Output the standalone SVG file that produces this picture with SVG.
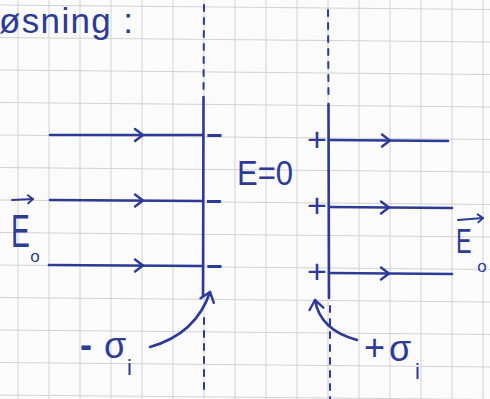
<svg xmlns="http://www.w3.org/2000/svg" width="490" height="399" viewBox="0 0 490 399">
  <style>
    .grid line { stroke: #d2d2d2; stroke-width: 1; }
    .ink { stroke: #2d3a96; fill: none; stroke-linecap: round; stroke-linejoin: round; }
    .solid { stroke-width: 2.6; }
    .dash { stroke-width: 2; stroke-dasharray: 6 7; }
    .txt { fill: #2d3a96; font-family: "Liberation Sans", "DejaVu Sans", sans-serif; }
    .sign { font-weight: bold; }
  </style>
  <defs>
    <path id="chev" d="M-8,-6 L0,0 L-8,6" fill="none" stroke="#2d3a96" stroke-width="2.4" stroke-linecap="round" stroke-linejoin="round"/>
    <marker id="head" viewBox="-12 -9 14 18" refX="0" refY="0" markerWidth="14" markerHeight="18" orient="auto" markerUnits="userSpaceOnUse">
      <path d="M-9,-7 L0,0 L-9,7" fill="none" stroke="#2d3a96" stroke-width="2.4" stroke-linecap="round" stroke-linejoin="round"/>
    </marker>
    <marker id="vhead" viewBox="-8 -6 10 12" refX="0" refY="0" markerWidth="10" markerHeight="12" orient="auto" markerUnits="userSpaceOnUse">
      <path d="M-5,-4 L0,0 L-5,4" fill="none" stroke="#2d3a96" stroke-width="2" stroke-linecap="round" stroke-linejoin="round"/>
    </marker>
  </defs>

  <rect width="490" height="399" fill="#fbfbfb"/>

  <g id="grid" class="grid">
    <line x1="18" y1="0" x2="18" y2="399"/>
    <line x1="49" y1="0" x2="49" y2="399"/>
    <line x1="80" y1="0" x2="80" y2="399"/>
    <line x1="111" y1="0" x2="111" y2="399"/>
    <line x1="142" y1="0" x2="142" y2="399"/>
    <line x1="173" y1="0" x2="173" y2="399"/>
    <line x1="204" y1="0" x2="204" y2="399"/>
    <line x1="235" y1="0" x2="235" y2="399"/>
    <line x1="266" y1="0" x2="266" y2="399"/>
    <line x1="297" y1="0" x2="297" y2="399"/>
    <line x1="328" y1="0" x2="328" y2="399"/>
    <line x1="359" y1="0" x2="359" y2="399"/>
    <line x1="390" y1="0" x2="390" y2="399"/>
    <line x1="421" y1="0" x2="421" y2="399"/>
    <line x1="452" y1="0" x2="452" y2="399"/>
    <line x1="483" y1="0" x2="483" y2="399"/>
    <line x1="0" y1="5" x2="490" y2="9.5"/>
    <line x1="0" y1="37.5" x2="490" y2="42"/>
    <line x1="0" y1="70" x2="490" y2="74.5"/>
    <line x1="0" y1="102.5" x2="490" y2="107"/>
    <line x1="0" y1="135" x2="490" y2="139.5"/>
    <line x1="0" y1="167.5" x2="490" y2="172"/>
    <line x1="0" y1="200" x2="490" y2="204.5"/>
    <line x1="0" y1="232.5" x2="490" y2="237"/>
    <line x1="0" y1="265" x2="490" y2="269.5"/>
    <line x1="0" y1="297.5" x2="490" y2="302"/>
    <line x1="0" y1="330" x2="490" y2="334.5"/>
    <line x1="0" y1="362.5" x2="490" y2="367"/>
    <line x1="0" y1="395" x2="490" y2="399.5"/>
  </g>

  <g id="title">
    <text class="txt" x="-1" y="33" font-size="35" textLength="134" lengthAdjust="spacing">øsning :</text>
  </g>

  <g id="left-plate">
    <path class="ink dash" d="M204,5 L203.5,95"/>
    <path class="ink solid" d="M203.5,97 L203,296"/>
    <path class="ink dash" d="M204,318 L204,392"/>
    <text class="txt sign" x="214.5" y="145" font-size="28" text-anchor="middle">−</text>
    <text class="txt sign" x="214" y="211" font-size="28" text-anchor="middle">−</text>
    <text class="txt sign" x="214.5" y="276" font-size="28" text-anchor="middle">−</text>
  </g>

  <g id="right-plate">
    <path class="ink dash" d="M328,10 L328.5,100"/>
    <path class="ink solid" d="M328.5,104 L329,298"/>
    <path class="ink dash" d="M330,306 L330,399"/>
    <text class="txt" x="317" y="150.5" font-size="34" text-anchor="middle">+</text>
    <text class="txt" x="317" y="216.5" font-size="34" text-anchor="middle">+</text>
    <text class="txt" x="317" y="282.5" font-size="34" text-anchor="middle">+</text>
  </g>

  <g id="connectors">
    <path class="ink solid" d="M50,135 L203,135"/>
    <path class="ink solid" d="M50,200 L203,201"/>
    <path class="ink solid" d="M49,265 L203,266"/>
    <use href="#chev" x="143" y="135"/>
    <use href="#chev" x="143" y="200.5"/>
    <use href="#chev" x="143" y="265.5"/>
    <path class="ink solid" d="M329,140 L448,141"/>
    <path class="ink solid" d="M329,207 L452,208"/>
    <path class="ink solid" d="M329,273 L452,274"/>
    <use href="#chev" x="390" y="140.5"/>
    <use href="#chev" x="389" y="207.5"/>
    <use href="#chev" x="389" y="273.5"/>
    <path class="ink solid" d="M150,347 Q196,334 210,292" marker-end="url(#head)"/>
    <path class="ink solid" d="M357,340 Q320,330 315,300" marker-end="url(#head)"/>
  </g>

  <g id="label-E-left">
    <path class="ink" stroke-width="2" d="M12,200 L33,199" marker-end="url(#vhead)"/>
    <text class="txt" transform="translate(11,247) scale(0.6,1)" font-size="47">E</text>
    <text class="txt" x="35" y="262" font-size="17" text-anchor="middle">o</text>
  </g>

  <g id="label-E0">
    <text class="txt" x="237" y="185" font-size="35" textLength="56" lengthAdjust="spacingAndGlyphs">E=0</text>
  </g>

  <g id="label-E-right">
    <path class="ink" stroke-width="2" d="M458,220 L483,218" marker-end="url(#vhead)"/>
    <text class="txt" transform="translate(456,253) scale(0.65,1)" font-size="36">E</text>
    <text class="txt" x="482" y="272" font-size="17" text-anchor="middle">o</text>
  </g>

  <g id="label-minus-sigma">
    <text class="txt" font-size="36"><tspan x="80" y="357" font-weight="bold">-</tspan><tspan x="104" y="358">σ</tspan><tspan x="127" y="375" font-size="22">i</tspan></text>
  </g>

  <g id="label-plus-sigma">
    <text class="txt" font-size="36"><tspan x="364" y="360">+</tspan><tspan x="389" y="361">σ</tspan><tspan x="415" y="379" font-size="22">i</tspan></text>
  </g>
</svg>
